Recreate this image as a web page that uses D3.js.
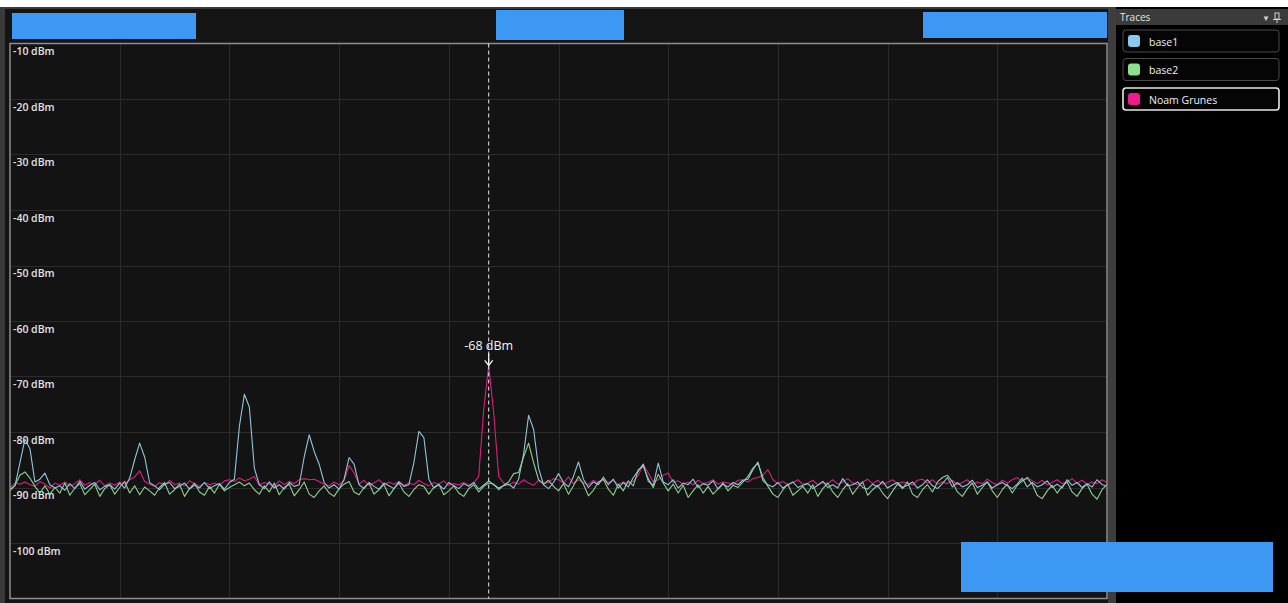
<!DOCTYPE html>
<html>
<head>
<meta charset="utf-8">
<script src="https://cdn.jsdelivr.net/npm/d3@7/dist/d3.min.js"></script>
<style>
  html, body { margin: 0; padding: 0; background: #ffffff; }
  svg { display: block; }
  text { font-family: "Open Sans", "Noto Sans", sans-serif; }
</style>
</head>
<body>
<svg id="chart" width="1288" height="603"></svg>
<script>
// ---------- data ----------
const seriesNames = ["base1", "base2", "Noam Grunes"];
const seriesColors = ["#8fc6dc", "#8ed18c", "#d81f7f"];
const swatchColors = ["#8cc8ec", "#8ee08c", "#ee1a8e"];
const yTickValues = [-10, -20, -30, -40, -50, -60, -70, -80, -90, -100];
const yTickLabels = ["-10 dBm", "-20 dBm", "-30 dBm", "-40 dBm", "-50 dBm", "-60 dBm", "-70 dBm", "-80 dBm", "-90 dBm", "-100 dBm"];
const xDivisions = 10;
const markerIndex = 96;
const markerLabel = "-68 dBm";

const base1 = [
  -90.3,-89.7,-85.5,-81.3,-83.0,-89.0,-88.5,-87.4,-89.5,-90.1,
  -89.7,-90.5,-89.3,-90.2,-88.9,-90.3,-89.6,-89.1,-90.4,-89.8,
  -89.5,-90.3,-89.2,-90.1,-88.3,-85.0,-82.0,-84.5,-89.1,-89.7,
  -90.4,-89.4,-89.1,-90.2,-89.8,-89.2,-90.3,-89.6,-90.1,-89.1,
  -90.2,-89.7,-89.3,-90.3,-89.1,-88.5,-79.0,-73.2,-75.5,-86.5,
  -89.5,-90.2,-89.0,-90.1,-89.5,-90.3,-89.1,-89.8,-89.5,-84.5,
  -80.5,-83.5,-85.8,-89.1,-90.1,-89.5,-90.3,-88.5,-84.6,-85.8,
  -89.5,-90.2,-89.1,-89.8,-90.3,-89.2,-89.7,-90.2,-89.0,-89.8,
  -89.5,-85.5,-79.9,-81.0,-88.5,-90.1,-89.5,-90.3,-89.1,-89.7,
  -90.2,-89.3,-89.8,-89.1,-90.3,-89.6,-88.8,-89.5,-90.1,-89.7,
  -89.4,-90.1,-88.5,-84.0,-77.0,-79.5,-86.5,-89.5,-90.2,-89.1,
  -87.5,-89.1,-89.9,-88.0,-85.4,-88.5,-90.0,-89.0,-89.5,-88.1,
  -89.5,-88.5,-90.1,-89.1,-89.9,-88.2,-87.0,-85.8,-88.9,-89.6,
  -85.6,-89.0,-89.5,-88.6,-90.1,-89.2,-89.5,-88.5,-90.0,-89.3,
  -89.6,-88.8,-90.3,-89.4,-89.9,-89.1,-89.5,-88.7,-88.5,-86.8,
  -85.4,-88.8,-89.5,-89.9,-89.1,-90.1,-89.5,-89.0,-90.0,-89.6,
  -89.3,-90.2,-89.6,-88.9,-90.0,-89.5,-90.1,-88.4,-89.7,-89.5,
  -89.0,-90.0,-90.3,-89.4,-89.9,-88.9,-90.1,-89.5,-89.1,-90.0,
  -89.6,-89.0,-90.1,-89.5,-88.6,-89.7,-90.2,-89.3,-88.2,-89.9,
  -89.1,-89.9,-89.5,-88.7,-90.0,-89.6,-89.0,-90.1,-89.5,-89.1,
  -89.7,-90.2,-89.4,-88.3,-89.9,-89.1,-89.9,-89.5,-88.8,-90.0,
  -89.4,-90.1,-88.6,-89.6,-89.1,-90.0,-89.3,-89.9,-88.6,-89.5,-89.7
];

const base2 = [
  -90.6,-89.6,-87.8,-87.2,-88.3,-89.8,-91.0,-89.7,-91.2,-90.0,
  -91.0,-89.2,-91.4,-90.1,-89.3,-91.3,-90.4,-89.4,-91.6,-90.2,
  -89.5,-91.2,-90.0,-88.9,-91.0,-89.7,-91.3,-89.9,-90.6,-91.4,
  -90.0,-89.1,-91.2,-90.4,-89.4,-91.6,-90.2,-89.2,-90.8,-91.4,
  -89.8,-91.0,-89.4,-90.6,-90.0,-89.5,-89.0,-89.7,-89.2,-90.4,
  -91.2,-89.7,-90.8,-89.2,-91.3,-90.0,-89.4,-91.5,-90.4,-89.0,
  -91.2,-91.8,-90.6,-89.7,-91.0,-91.6,-90.2,-89.4,-88.9,-90.8,
  -91.3,-90.0,-89.2,-91.2,-90.4,-89.5,-91.5,-90.2,-89.2,-90.8,
  -91.6,-90.4,-89.5,-89.8,-91.2,-90.0,-89.4,-91.3,-90.6,-89.7,
  -91.0,-91.6,-90.2,-89.5,-90.8,-89.8,-89.2,-89.4,-90.4,-89.6,
  -89.0,-87.5,-87.3,-84.5,-82.0,-85.5,-88.6,-89.4,-88.7,-89.8,
  -90.6,-89.3,-91.2,-89.7,-88.0,-89.4,-91.5,-90.5,-89.0,-88.5,
  -90.3,-91.4,-89.4,-90.6,-88.8,-89.7,-86.8,-86.2,-88.4,-90.0,
  -87.6,-89.2,-90.6,-89.4,-91.0,-89.6,-91.8,-90.6,-89.5,-91.0,
  -89.8,-91.2,-90.2,-89.2,-90.6,-89.6,-90.0,-89.0,-88.0,-86.5,
  -85.6,-88.2,-89.8,-91.2,-91.8,-90.4,-89.4,-91.4,-90.6,-89.8,
  -91.0,-89.5,-91.6,-90.2,-89.2,-90.8,-91.8,-90.4,-89.3,-91.2,
  -90.0,-89.0,-91.4,-90.4,-89.6,-91.0,-92.0,-90.6,-89.4,-90.2,
  -89.0,-91.2,-91.8,-90.4,-89.5,-90.8,-89.0,-88.2,-87.8,-89.0,
  -90.8,-91.6,-90.2,-89.2,-91.2,-90.0,-89.0,-90.6,-91.8,-90.4,
  -89.4,-91.0,-89.6,-88.8,-88.3,-89.4,-91.4,-92.0,-90.6,-89.6,
  -91.0,-89.8,-89.0,-90.8,-91.6,-90.2,-89.4,-91.2,-92.1,-90.4,-89.5
];

const noam = [
  -90.0,-89.2,-89.4,-89.0,-89.5,-89.8,-88.9,-89.4,-90.1,-89.2,
  -89.6,-89.0,-89.8,-89.3,-88.6,-89.6,-89.1,-89.5,-88.7,-89.7,
  -89.2,-89.6,-89.0,-89.4,-88.6,-88.1,-87.0,-88.9,-89.4,-89.8,
  -89.1,-89.6,-88.7,-89.5,-89.2,-89.7,-88.8,-89.3,-89.8,-89.1,
  -89.5,-89.2,-89.6,-88.8,-88.6,-88.9,-88.3,-88.8,-88.5,-88.0,
  -89.6,-89.1,-89.4,-89.8,-88.8,-89.5,-88.9,-89.3,-88.6,-88.4,
  -88.6,-88.5,-88.9,-89.4,-89.7,-89.0,-89.5,-88.8,-86.0,-87.4,
  -89.4,-88.7,-89.6,-89.2,-88.6,-89.5,-89.0,-89.4,-88.9,-89.6,
  -89.2,-89.5,-88.7,-89.3,-89.7,-89.1,-89.4,-88.8,-89.6,-89.3,
  -89.5,-89.1,-89.6,-89.2,-88.0,-76.0,-68.0,-76.5,-88.0,-89.2,
  -89.6,-89.0,-89.4,-88.6,-89.2,-89.6,-88.7,-89.3,-89.1,-88.4,
  -88.6,-89.2,-88.1,-89.3,-88.6,-89.1,-89.5,-88.7,-89.2,-88.6,
  -89.1,-88.8,-89.5,-89.0,-89.3,-88.9,-87.8,-85.8,-87.4,-89.0,
  -88.6,-87.8,-87.4,-89.1,-88.8,-89.4,-89.0,-89.5,-88.7,-89.3,
  -89.1,-88.6,-89.4,-89.0,-89.2,-89.5,-88.7,-88.6,-89.0,-88.4,
  -88.2,-87.8,-86.8,-88.6,-89.3,-88.9,-89.5,-89.1,-88.6,-89.4,
  -89.2,-88.7,-89.5,-89.1,-89.3,-88.6,-89.4,-89.0,-88.4,-89.2,
  -89.5,-89.0,-88.5,-89.3,-88.7,-89.4,-89.1,-88.6,-89.3,-89.0,
  -89.2,-89.5,-88.7,-88.5,-89.2,-88.6,-89.4,-89.0,-89.3,-88.7,
  -89.5,-89.1,-88.6,-89.4,-89.0,-89.3,-88.5,-89.1,-89.5,-88.7,
  -89.2,-88.6,-88.2,-89.0,-88.1,-88.8,-89.3,-88.7,-89.5,-89.1,
  -88.6,-89.3,-89.0,-88.4,-89.2,-88.7,-89.4,-89.0,-89.3,-88.6,-89.1
];

// ---------- layout ----------
const svg = d3.select("#chart");
const W = 1288, H = 603;
const plot = { left: 10, right: 1107, top: 43.5, bottom: 598.5 };
const N = noam.length;

// page frame
svg.append("rect").attr("x", 0).attr("y", 0).attr("width", W).attr("height", H).attr("fill", "#ffffff");
svg.append("rect").attr("x", 0).attr("y", 7).attr("width", 1113).attr("height", H - 7).attr("fill", "#3a3a3a");
svg.append("rect").attr("x", 5).attr("y", 9).attr("width", 1104).attr("height", H - 9).attr("fill", "#141414");
// right panel
svg.append("rect").attr("x", 1108).attr("y", 7).attr("width", 9).attr("height", H - 7).attr("fill", "#3d3d3d");
svg.append("rect").attr("x", 1116).attr("y", 7).attr("width", W - 1116).attr("height", H - 7).attr("fill", "#000000");

// scales
const x = d3.scaleLinear().domain([0, N - 1]).range([plot.left, plot.right]);
const y = d3.scaleLinear().domain([-110, -10]).range([plot.bottom, plot.top]);

// plot background
svg.append("rect")
  .attr("x", plot.left).attr("y", plot.top)
  .attr("width", plot.right - plot.left).attr("height", plot.bottom - plot.top)
  .attr("fill", "#131313");

// grid
const xGrid = d3.range(1, xDivisions).map(k => (N - 1) * k / xDivisions);
svg.append("g").selectAll("line").data(xGrid).join("line")
  .attr("x1", d => Math.round(x(d)) + 0.5).attr("x2", d => Math.round(x(d)) + 0.5)
  .attr("y1", plot.top).attr("y2", plot.bottom)
  .attr("stroke", "#2b2b2b").attr("stroke-width", 1);
svg.append("g").selectAll("line").data(yTickValues.slice(1)).join("line")
  .attr("x1", plot.left).attr("x2", plot.right)
  .attr("y1", d => Math.round(y(d)) + 0.5).attr("y2", d => Math.round(y(d)) + 0.5)
  .attr("stroke", "#2b2b2b").attr("stroke-width", 1);

// y labels (placed just under each gridline)
svg.append("g").selectAll("text").data(yTickValues).join("text")
  .attr("x", plot.left + 3)
  .attr("y", d => y(d) + 11.5)
  .attr("fill", "#e2e2e2")
  .attr("font-size", 10.5)
  .attr("font-weight", 600)
  .text((d, i) => yTickLabels[i]);

// traces
const line = d3.line().x((d, i) => x(i)).y(d => y(d));
const drawOrder = [2, 1, 0];
const allSeries = [base1, base2, noam];
svg.append("g").selectAll("path").data(drawOrder).join("path")
  .attr("d", k => line(allSeries[k]))
  .attr("fill", "none")
  .attr("stroke", k => seriesColors[k])
  .attr("stroke-width", 1.1)
  .attr("stroke-linejoin", "round");

// plot border
svg.append("rect")
  .attr("x", plot.left).attr("y", plot.top)
  .attr("width", plot.right - plot.left).attr("height", plot.bottom - plot.top)
  .attr("fill", "none").attr("stroke", "#8e8e8e").attr("stroke-width", 1.5);

// marker
const mx = x(markerIndex);
const my = y(noam[markerIndex]);
svg.append("line")
  .attr("x1", mx).attr("x2", mx).attr("y1", plot.top).attr("y2", plot.bottom)
  .attr("stroke", "#e8e8e8").attr("stroke-width", 1).attr("stroke-dasharray", "4,3");
svg.append("text")
  .attr("x", mx).attr("y", my - 15)
  .attr("text-anchor", "middle").attr("fill", "#f4f4f4").attr("font-size", 12.5)
  .text(markerLabel);
svg.append("line")
  .attr("x1", mx).attr("x2", mx).attr("y1", my - 12).attr("y2", my)
  .attr("stroke", "#f4f4f4").attr("stroke-width", 1.3);
svg.append("path")
  .attr("d", `M${mx - 4},${my - 5} L${mx},${my} L${mx + 4},${my - 5}`)
  .attr("fill", "none").attr("stroke", "#f4f4f4").attr("stroke-width", 1.3);

// right panel header
svg.append("rect").attr("x", 1116).attr("y", 9).attr("width", W - 1116).attr("height", 16).attr("fill", "#3b3b3b");
svg.append("text").attr("x", 1120).attr("y", 21).attr("fill", "#e6e6e6").attr("font-size", 10).text("Traces");
svg.append("text").attr("x", 1262).attr("y", 21).attr("fill", "#cfcfcf").attr("font-size", 8).text("▼");
svg.append("g").call(g => {
  g.append("rect").attr("x", 1275).attr("y", 13).attr("width", 4).attr("height", 6).attr("fill", "none").attr("stroke", "#cfcfcf").attr("stroke-width", 1);
  g.append("line").attr("x1", 1273).attr("x2", 1281).attr("y1", 19.5).attr("y2", 19.5).attr("stroke", "#cfcfcf");
  g.append("line").attr("x1", 1277).attr("x2", 1277).attr("y1", 20).attr("y2", 23).attr("stroke", "#cfcfcf");
});

// legend items
const legendY = [30, 58.5, 88];
const legend = svg.append("g").selectAll("g").data(seriesNames).join("g")
  .attr("transform", (d, i) => `translate(1123,${legendY[i]})`);
legend.append("rect")
  .attr("width", 156).attr("height", 22).attr("rx", 3)
  .attr("fill", "#050505")
  .attr("stroke", (d, i) => i === 2 ? "#e8e8e8" : "#4a4a4a")
  .attr("stroke-width", (d, i) => i === 2 ? 1.6 : 1);
legend.append("rect")
  .attr("x", 5).attr("y", 5).attr("width", 12).attr("height", 12).attr("rx", 3)
  .attr("fill", (d, i) => swatchColors[i]);
legend.append("text")
  .attr("x", 26).attr("y", 15.5)
  .attr("fill", "#f0f0f0").attr("font-size", 10.5)
  .text(d => d);

// redaction blocks
const blocks = [
  [12, 13, 184, 26],
  [496, 10, 128, 30],
  [923, 12, 184, 26],
  [961, 542, 312, 50]
];
svg.append("g").selectAll("rect").data(blocks).join("rect")
  .attr("x", d => d[0]).attr("y", d => d[1]).attr("width", d => d[2]).attr("height", d => d[3])
  .attr("fill", "#3d98f4");
</script>
</body>
</html>
